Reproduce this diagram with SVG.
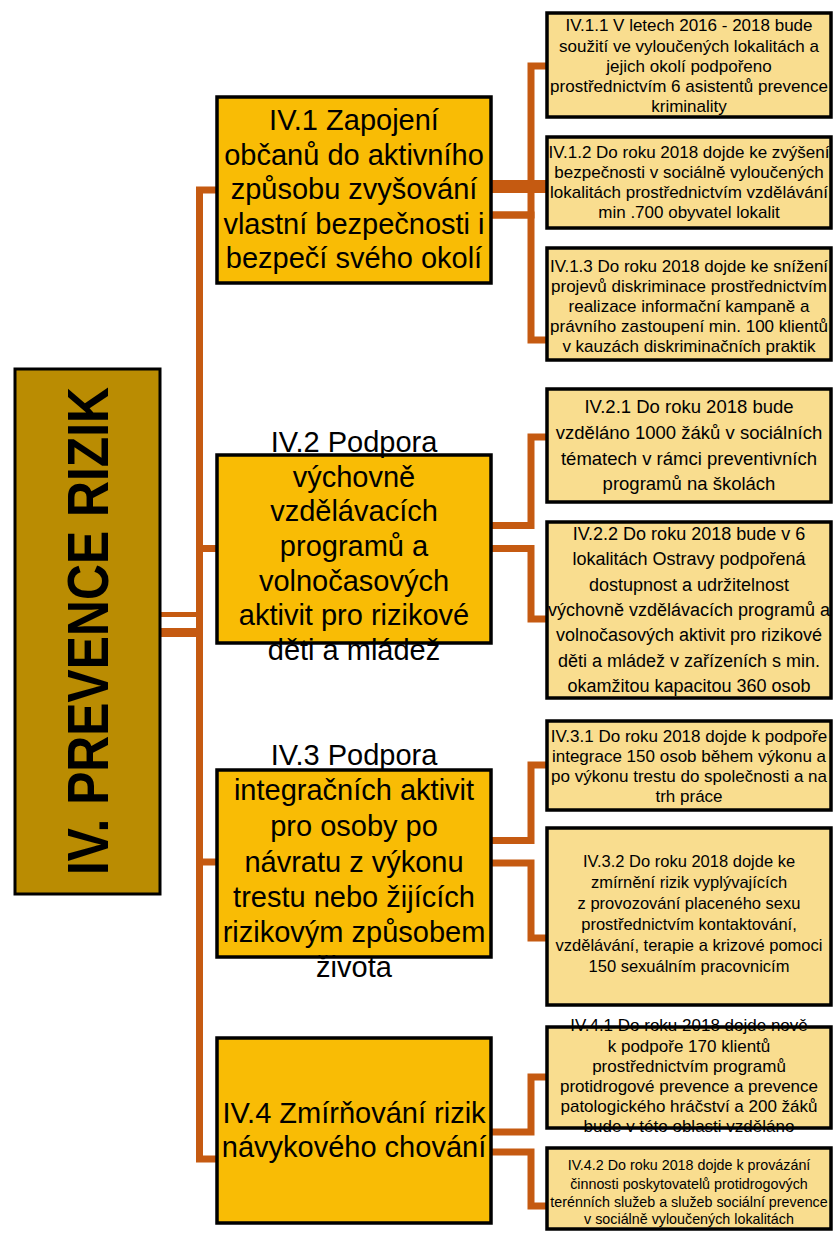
<svg xmlns="http://www.w3.org/2000/svg" width="833" height="1233" viewBox="0 0 833 1233">
<style>
.bg{fill:#ffffff}
.root{fill:#BA8C02;stroke:#000;stroke-width:3}
.mid{fill:#F9BC05;stroke:#000;stroke-width:3.5}
.leaf{fill:#F9DD8F;stroke:#000;stroke-width:3.5}
.con{fill:none;stroke:#C55A11;stroke-width:7;stroke-linejoin:miter;stroke-linecap:butt}
text{font-family:"Liberation Sans",Arial,sans-serif;fill:#000;text-anchor:middle}
.rt{font-size:58px;font-weight:bold}
.mt{font-size:29px}
</style>
<rect class="bg" x="0" y="0" width="833" height="1233"/>
<g id="connectors">
  <path class="con" d="M160,614.5 H200" style="stroke-width:5"/>
  <path class="con" d="M160,632.5 H200" style="stroke-width:9"/>
  <path class="con" d="M217,190 H199.5 V1159 H217"/>
  <path class="con" d="M199.5,548.5 H217"/>
  <path class="con" d="M199.5,862 H217"/>
  <path class="con" d="M491,215 H531 V66 H547"/>
  <path class="con" d="M491,186.5 H547" style="stroke-width:13"/>
  <path class="con" d="M491,215 H531 V340 H547"/>
  <path class="con" d="M491,525.5 H531 V437 H547"/>
  <path class="con" d="M491,548.5 H531 V619 H547"/>
  <path class="con" d="M491,840.5 H531 V765 H547"/>
  <path class="con" d="M491,863 H531 V938 H547"/>
  <path class="con" d="M491,1132 H531 V1077 H547"/>
  <path class="con" d="M491,1152 H531 V1206 H547"/>
</g>
<g id="root">
  <rect class="root" x="15" y="369" width="145" height="525"/>
  <text class="rt" transform="translate(108,631) rotate(-90)" textLength="488" lengthAdjust="spacingAndGlyphs">IV. PREVENCE RIZIK</text>
</g>
<g id="n1">
  <rect class="mid" x="217" y="97" width="274" height="186"/>
  <text class="mt" x="354" y="130">IV.1 Zapojení</text>
  <text class="mt" x="354" y="165">občanů do aktivního</text>
  <text class="mt" x="354" y="199">způsobu zvyšování</text>
  <text class="mt" x="354" y="234">vlastní bezpečnosti i</text>
  <text class="mt" x="354" y="268">bezpečí svého okolí</text>
</g>
<g id="n2">
  <rect class="mid" x="217" y="455" width="274" height="188"/>
  <text class="mt" x="354" y="452">IV.2 Podpora</text>
  <text class="mt" x="354" y="487">výchovně</text>
  <text class="mt" x="354" y="521">vzdělávacích</text>
  <text class="mt" x="354" y="556">programů a</text>
  <text class="mt" x="354" y="591">volnočasových</text>
  <text class="mt" x="354" y="625">aktivit pro rizikové</text>
  <text class="mt" x="354" y="660">děti a mládež</text>
</g>
<g id="n3">
  <rect class="mid" x="217" y="770" width="274" height="187"/>
  <text class="mt" x="354" y="765">IV.3 Podpora</text>
  <text class="mt" x="354" y="800">integračních aktivit</text>
  <text class="mt" x="354" y="836">pro osoby po</text>
  <text class="mt" x="354" y="872">návratu z výkonu</text>
  <text class="mt" x="354" y="907">trestu nebo žijících</text>
  <text class="mt" x="354" y="942">rizikovým způsobem</text>
  <text class="mt" x="354" y="977">života</text>
</g>
<g id="n4">
  <rect class="mid" x="217" y="1038" width="274" height="185"/>
  <text class="mt" x="354" y="1123">IV.4 Zmírňování rizik</text>
  <text class="mt" x="354" y="1157">návykového chování</text>
</g>
<g id="n11">
  <rect class="leaf" x="547" y="13" width="284" height="104"/>
  <text x="689" y="31" font-size="17">IV.1.1 V letech 2016 - 2018 bude</text>
  <text x="689" y="51.5" font-size="17">soužití ve vyloučených lokalitách a</text>
  <text x="689" y="72" font-size="17">jejich okolí podpořeno</text>
  <text x="689" y="92" font-size="17">prostřednictvím 6 asistentů prevence</text>
  <text x="689" y="112" font-size="17">kriminality</text>
</g>
<g id="n12">
  <rect class="leaf" x="547" y="137" width="284" height="91"/>
  <text x="689" y="158" font-size="17">IV.1.2 Do roku 2018 dojde ke zvýšení</text>
  <text x="689" y="178" font-size="17">bezpečnosti v sociálně vyloučených</text>
  <text x="689" y="198" font-size="17">lokalitách prostřednictvím vzdělávání</text>
  <text x="689" y="218" font-size="17">min .700 obyvatel lokalit</text>
</g>
<g id="n13">
  <rect class="leaf" x="547" y="248" width="284" height="112"/>
  <text x="689" y="272" font-size="17">IV.1.3 Do roku 2018 dojde ke snížení</text>
  <text x="689" y="292" font-size="17">projevů diskriminace prostřednictvím</text>
  <text x="689" y="312" font-size="17">realizace informační kampaně a</text>
  <text x="689" y="332" font-size="17">právního zastoupení min. 100 klientů</text>
  <text x="689" y="352" font-size="17">v kauzách diskriminačních praktik</text>
</g>
<g id="n21">
  <rect class="leaf" x="547" y="389" width="284" height="113"/>
  <text x="689" y="413" font-size="18.5">IV.2.1 Do roku 2018 bude</text>
  <text x="689" y="439" font-size="18.5">vzděláno 1000 žáků v sociálních</text>
  <text x="689" y="465" font-size="18.5">tématech v rámci preventivních</text>
  <text x="689" y="490" font-size="18.5">programů na školách</text>
</g>
<g id="n22">
  <rect class="leaf" x="547" y="522" width="284" height="176"/>
  <text x="689" y="540" font-size="18">IV.2.2 Do roku 2018 bude v 6</text>
  <text x="689" y="565.3" font-size="18">lokalitách Ostravy podpořená</text>
  <text x="689" y="590.6" font-size="18">dostupnost a udržitelnost</text>
  <text x="689" y="616" font-size="18">výchovně vzdělávacích programů a</text>
  <text x="689" y="641" font-size="18">volnočasových aktivit pro rizikové</text>
  <text x="689" y="666.5" font-size="18">děti a mládež v zařízeních s min.</text>
  <text x="689" y="692" font-size="18">okamžitou kapacitou 360 osob</text>
</g>
<g id="n31">
  <rect class="leaf" x="547" y="721" width="284" height="89"/>
  <text x="689" y="742" font-size="17">IV.3.1 Do roku 2018 dojde k podpoře</text>
  <text x="689" y="762" font-size="17">integrace 150 osob během výkonu a</text>
  <text x="689" y="782" font-size="17">po výkonu trestu do společnosti a na</text>
  <text x="689" y="802" font-size="17">trh práce</text>
</g>
<g id="n32">
  <rect class="leaf" x="547" y="828" width="284" height="177"/>
  <text x="689" y="867" font-size="16.5">IV.3.2 Do roku 2018 dojde ke</text>
  <text x="689" y="888" font-size="16.5">zmírnění rizik vyplývajících</text>
  <text x="689" y="909" font-size="16.5">z provozování placeného sexu</text>
  <text x="689" y="930" font-size="16.5">prostřednictvím kontaktování,</text>
  <text x="689" y="951" font-size="16.5">vzdělávání, terapie a krizové pomoci</text>
  <text x="689" y="972" font-size="16.5">150 sexuálním pracovnicím</text>
</g>
<g id="n41">
  <rect class="leaf" x="547" y="1027" width="284" height="101"/>
  <text x="689" y="1031" font-size="17">IV.4.1 Do roku 2018 dojde nově</text>
  <text x="689" y="1052" font-size="17">k podpoře 170 klientů</text>
  <text x="689" y="1072" font-size="17">prostřednictvím programů</text>
  <text x="689" y="1092" font-size="17">protidrogové prevence a prevence</text>
  <text x="689" y="1112" font-size="17">patologického  hráčství a 200  žáků</text>
  <text x="689" y="1132" font-size="17">bude v této oblasti vzděláno</text>
</g>
<g id="n42">
  <rect class="leaf" x="547" y="1148" width="284" height="81"/>
  <text x="689" y="1170" font-size="14.3">IV.4.2 Do roku 2018 dojde k provázání</text>
  <text x="689" y="1188.5" font-size="14.3">činnosti poskytovatelů protidrogových</text>
  <text x="689" y="1207" font-size="14.3">terénních služeb a služeb sociální prevence</text>
  <text x="689" y="1224" font-size="14.3">v sociálně vyloučených lokalitách</text>
</g>
</svg>
